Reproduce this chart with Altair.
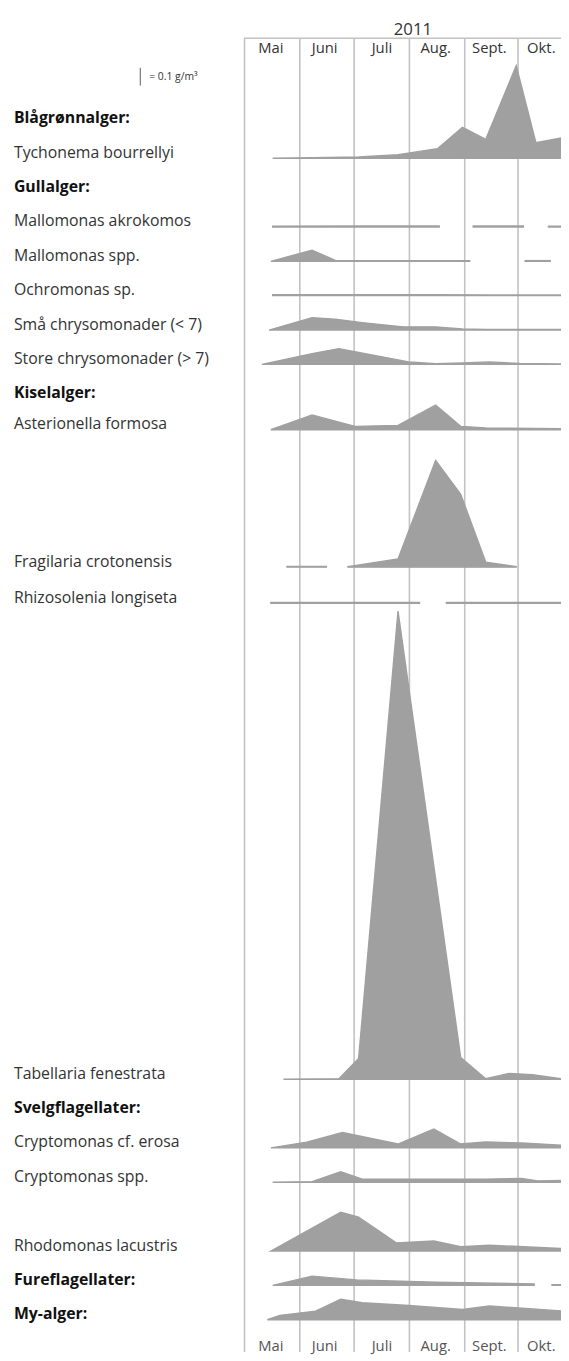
import altair as alt
import pandas as pd

# ---------------- data (g/m3), segments separated where the series has gaps ----------------
TYCHONEMA = [[("2011-05-17", 0.0), ("2011-06-08", 0.003), ("2011-07-04", 0.007), ("2011-07-26", 0.02),
              ("2011-08-17", 0.053), ("2011-08-31", 0.174), ("2011-09-13", 0.106), ("2011-09-30", 0.52),
              ("2011-10-11", 0.087), ("2011-10-25", 0.114)]]
MALLO_AKRO = [[("2011-05-17", 0.004), ("2011-07-04", 0.005), ("2011-08-18", 0.005)],
              [("2011-09-06", 0.005), ("2011-10-04", 0.005)],
              [("2011-10-18", 0.004), ("2011-10-25", 0.004)]]
MALLO_SPP = [[("2011-05-16", 0.0), ("2011-06-08", 0.063), ("2011-06-21", 0.005), ("2011-09-04", 0.003)],
             [("2011-10-05", 0.004), ("2011-10-19", 0.004)]]
OCHRO = [[("2011-05-17", 0.006), ("2011-08-16", 0.005), ("2011-09-13", 0.004), ("2011-10-25", 0.004)]]
SMAA = [[("2011-05-15", 0.0), ("2011-06-08", 0.07), ("2011-06-21", 0.061), ("2011-07-06", 0.042),
         ("2011-07-29", 0.018), ("2011-08-16", 0.018), ("2011-08-31", 0.006), ("2011-09-13", 0.003),
         ("2011-10-25", 0.003)]]
STORE = [[("2011-05-11", 0.0), ("2011-06-08", 0.061), ("2011-06-23", 0.089), ("2011-08-01", 0.014),
          ("2011-08-16", 0.004), ("2011-08-31", 0.008), ("2011-09-15", 0.014), ("2011-10-02", 0.005),
          ("2011-10-25", 0.002)]]
ASTERIO = [[("2011-05-16", 0.0), ("2011-06-08", 0.083), ("2011-07-02", 0.019), ("2011-07-26", 0.024),
            ("2011-08-16", 0.139), ("2011-08-30", 0.019), ("2011-09-13", 0.01), ("2011-10-25", 0.005)]]
FRAGI = [[("2011-05-25", 0.004), ("2011-06-16", 0.004)],
         [("2011-06-28", 0.003), ("2011-07-26", 0.046), ("2011-08-16", 0.60), ("2011-08-30", 0.41),
          ("2011-09-13", 0.028), ("2011-09-30", 0.003)]]
RHIZO = [[("2011-05-16", 0.004), ("2011-08-07", 0.004)],
         [("2011-08-22", 0.004), ("2011-10-25", 0.004)]]
TABELL = [[("2011-05-23", 0.0), ("2011-06-23", 0.003), ("2011-07-04", 0.117), ("2011-07-26", 2.633),
           ("2011-08-30", 0.122), ("2011-09-13", 0.003), ("2011-09-26", 0.032), ("2011-10-09", 0.026),
           ("2011-10-25", 0.003)]]
CRYPTO_EROSA = [[("2011-05-16", 0.0), ("2011-06-05", 0.033), ("2011-06-25", 0.087), ("2011-07-26", 0.022),
                 ("2011-08-15", 0.107), ("2011-08-30", 0.022), ("2011-09-13", 0.033), ("2011-10-03", 0.028),
                 ("2011-10-25", 0.015)]]
CRYPTO_SPP = [[("2011-05-17", 0.0), ("2011-06-08", 0.004), ("2011-06-24", 0.059), ("2011-07-06", 0.018),
               ("2011-09-13", 0.018), ("2011-10-03", 0.022), ("2011-10-12", 0.008), ("2011-10-25", 0.01)]]
RHODO = [[("2011-05-16", 0.0), ("2011-06-24", 0.218), ("2011-07-04", 0.19), ("2011-07-25", 0.046),
          ("2011-08-15", 0.056), ("2011-08-30", 0.024), ("2011-09-15", 0.033), ("2011-10-25", 0.014)]]
FURE = [[("2011-05-17", 0.0), ("2011-06-08", 0.052), ("2011-07-03", 0.031), ("2011-08-16", 0.018),
         ("2011-10-10", 0.008)],
        [("2011-10-20", 0.004), ("2011-10-25", 0.004)]]
MYALG = [[("2011-05-14", 0.0), ("2011-05-21", 0.025), ("2011-06-10", 0.048), ("2011-06-24", 0.116),
          ("2011-07-06", 0.096), ("2011-08-01", 0.08), ("2011-08-31", 0.058), ("2011-09-15", 0.077),
          ("2011-10-25", 0.05)]]

# label, bold?, series (or None for a group heading)
ROWS = [
    ("Blågrønnalger:", True, None),
    ("Tychonema bourrellyi", False, TYCHONEMA),
    ("Gullalger:", True, None),
    ("Mallomonas akrokomos", False, MALLO_AKRO),
    ("Mallomonas spp.", False, MALLO_SPP),
    ("Ochromonas sp.", False, OCHRO),
    ("Små chrysomonader (< 7)", False, SMAA),
    ("Store chrysomonader (> 7)", False, STORE),
    ("Kiselalger:", True, None),
    ("Asterionella formosa", False, ASTERIO),
    ("Fragilaria crotonensis", False, FRAGI),
    ("Rhizosolenia longiseta", False, RHIZO),
    ("Tabellaria fenestrata", False, TABELL),
    ("Svelgflagellater:", True, None),
    ("Cryptomonas cf. erosa", False, CRYPTO_EROSA),
    ("Cryptomonas spp.", False, CRYPTO_SPP),
    ("Rhodomonas lacustris", False, RHODO),
    ("Fureflagellater:", True, FURE),
    ("My-alger:", True, MYALG),
]

MONTHS = ["Mai", "Juni", "Juli", "Aug.", "Sept.", "Okt."]
MONTH_MID = ["2011-05-16", "2011-06-15", "2011-07-17", "2011-08-16", "2011-09-15", "2011-10-14"]
YEAR = "2011"
SCALE_VALUE = 0.1  # g/m3 legend bar

# ---------------- layout (row slots, in units of row pitch) ----------------
SLOTS = [0, 1, 2, 3, 4, 5, 6, 7, 8, 8.9, 12.9, 13.95, 27.8, 28.8, 29.8, 30.8, 32.8, 33.8, 34.8]
W, H = 321, 1330
PX_PER_UNIT = 180.0
Y_MAX = H / PX_PER_UNIT
BASE0 = (H - 86.76) / PX_PER_UNIT
PITCH = 34.8 / PX_PER_UNIT
LEGEND_BASE = (H - 48) / PX_PER_UNIT

GRAY = "#a0a0a0"
GRID = "#c2c2c2"
FONT = "Open Sans"

area_rows, label_rows = [], []
for (label, bold, series), slot in zip(ROWS, SLOTS):
    base = BASE0 - slot * PITCH
    label_rows.append({"label": label, "bold": bold, "base": base})
    if series is None:
        continue
    for si, seg in enumerate(series):
        for d, v in seg:
            area_rows.append({"key": f"{label}#{si}", "date": d, "base": base, "top": base + v})

areas = pd.DataFrame(area_rows)
labels = pd.DataFrame(label_rows)
months = pd.DataFrame({"m": MONTHS, "mid": MONTH_MID})
legend = pd.DataFrame({"b": [LEGEND_BASE], "t": [LEGEND_BASE + SCALE_VALUE], "txt": [f"= {SCALE_VALUE} g/m³"]})
one = pd.DataFrame({"year": [YEAR]})

XS = alt.Scale(type="utc", domain=[alt.DateTime(year=2011, month=5, date=1, utc=True),
                                   alt.DateTime(year=2011, month=10, date=25, utc=True)])
YS = alt.Scale(domain=[0, Y_MAX], nice=False, zero=False)
AX = alt.Axis(values=[alt.DateTime(year=2011, month=m, date=1, utc=True) for m in range(5, 11)],
              grid=True, gridColor=GRID, gridWidth=1.6, labels=False, ticks=False, domain=False, title=None)

area_layer = alt.Chart(areas).mark_area(fill=GRAY, stroke=GRAY, strokeWidth=1.4, opacity=1,
                                        interpolate="linear", clip=True).encode(
    x=alt.X("date:T", scale=XS, axis=AX),
    y=alt.Y("top:Q", scale=YS, axis=None),
    y2="base:Q",
    detail="key:N",
)

top_rule = alt.Chart(one).mark_rule(color=GRID, strokeWidth=1.6).encode(
    x=alt.value(0), x2=alt.value(W), y=alt.value(0))

month_top = alt.Chart(months).mark_text(font=FONT, fontSize=15, color="#333", baseline="alphabetic",
                                         align="center").encode(
    x=alt.X("mid:T", scale=XS, axis=AX), y=alt.value(15), text="m:N")
month_bot = alt.Chart(months).mark_text(font=FONT, fontSize=15, color="#555", baseline="alphabetic",
                                         align="center").encode(
    x=alt.X("mid:T", scale=XS, axis=AX), y=alt.value(H - 1), text="m:N")

year_text = alt.Chart(one).mark_text(font=FONT, fontSize=17, color="#333", baseline="alphabetic",
                                      align="center").encode(
    x=alt.value(171), y=alt.value(-3.5), text="year:N")

legend_bar = alt.Chart(legend).mark_rule(color="#777", strokeWidth=1.2).encode(
    x=alt.value(-105), y=alt.Y("t:Q", scale=YS, axis=None), y2="b:Q")
legend_txt = alt.Chart(legend).mark_text(font=FONT, fontSize=10.5, color="#333", align="left",
                                          baseline="middle").encode(
    x=alt.value(-96), y=alt.value(39), text="txt:N")

lab_norm = alt.Chart(labels).transform_filter("!datum.bold").mark_text(
    font=FONT, fontSize=16, color="#333", align="left", baseline="alphabetic", dy=-0.5).encode(
    x=alt.value(-233), y=alt.Y("base:Q", scale=YS, axis=None), text="label:N")
lab_bold = alt.Chart(labels).transform_filter("datum.bold").mark_text(
    font=FONT, fontSize=16, fontWeight="bold", color="#111", align="left", baseline="alphabetic",
    dy=-0.5).encode(
    x=alt.value(-233), y=alt.Y("base:Q", scale=YS, axis=None), text="label:N")

chart = alt.layer(area_layer, top_rule, month_top, month_bot, year_text, legend_bar, legend_txt,
                  lab_norm, lab_bold).properties(
    width=W, height=H,
    padding={"left": 239, "top": 22, "right": 0, "bottom": 0},
    autosize=alt.AutoSizeParams(type="none"),
).configure_view(stroke=None)

chart.save("out.html", embed_options={"renderer": "svg", "actions": False})
